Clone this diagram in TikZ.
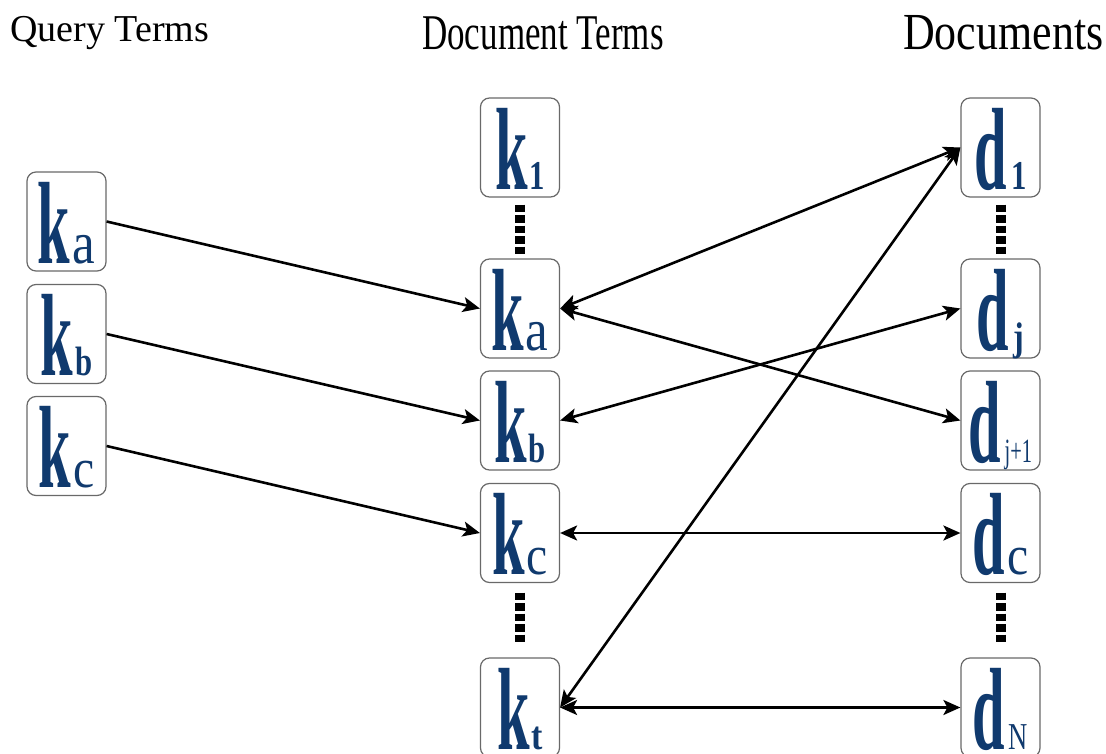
\documentclass[tikz,border=0pt]{standalone}
\usepackage{fontspec}
\setmainfont{Liberation Serif}
\usepackage{graphicx}
\usetikzlibrary{arrows.meta}
\definecolor{kblue}{RGB}{16,58,110}
\definecolor{boxgray}{RGB}{105,105,105}
\newcommand\Sym[4]{\scalebox{0.5}[1]{\fontsize{117}{117}\selectfont\bfseries #1}\hspace{2pt}\scalebox{#4}[1]{\fontsize{#3}{#3}\selectfont #2}}
\begin{document}
\begin{tikzpicture}[x=1pt,y=-1pt,
  box/.style={draw=boxgray,line width=1.2pt,rounded corners=9pt,minimum width=79pt,minimum height=99pt,inner sep=0pt,fill=white},
  sym/.style={anchor=base,inner sep=0pt,text=kblue},
  title/.style={anchor=base west,inner sep=0pt,text=black},
  link/.style={line width=2.6pt,-{Stealth[length=17pt,width=15pt,inset=4pt]}},
  blink/.style={line width=2.6pt,{Stealth[length=17pt,width=15pt,inset=4pt]}-{Stealth[length=17pt,width=15pt,inset=4pt]}},
  dots/.style={line width=10pt,dash pattern=on 7.5pt off 3pt}
]
\useasboundingbox (0,0) rectangle (1106,754);

% titles
\node[title] (t1) at (10,42) {\fontsize{38}{38}\selectfont Query Terms};
\node[title] (t2) at (422,50) {\scalebox{0.7}[1]{\fontsize{50}{50}\selectfont Document Terms}};
\node[title] (t3) at (903,50) {\scalebox{0.845}[1]{\fontsize{52}{52}\selectfont Documents}};

% query terms
\node[box] (qa) at (66.5,221.5) {};
\node[box] (qb) at (66.5,334) {};
\node[box] (qc) at (66.5,446) {};
\node[sym] (qat) at ([yshift=8.5pt]qa.south) {\Sym{k}{a}{60}{0.85}};
\node[sym] (qbt) at ([yshift=8.5pt]qb.south) {\Sym{k}{\textbf{b}}{41}{0.75}};
\node[sym] (qct) at ([yshift=8.5pt]qc.south) {\Sym{k}{c}{56}{0.85}};

% document terms
\node[box] (k1) at (520,147.5) {};
\node[box] (ka) at (520,308.5) {};
\node[box] (kb) at (520,420.5) {};
\node[box] (kc) at (520,533) {};
\node[box] (kt) at (520,707.5) {};
\node[sym] (k1t) at ([yshift=8pt]k1.south) {\Sym{k}{\textbf{1}}{41}{0.75}};
\node[sym] (kat) at ([yshift=8.5pt]ka.south) {\Sym{k}{a}{60}{0.85}};
\node[sym] (kbt) at ([yshift=8.5pt]kb.south) {\Sym{k}{\textbf{b}}{41}{0.75}};
\node[sym] (kct) at ([yshift=8.5pt]kc.south) {\Sym{k}{c}{56}{0.85}};
\node[sym] (ktt) at ([yshift=8.5pt]kt.south) {\Sym{k}{\textbf{t}}{40}{0.85}};

% documents
\node[box] (d1) at (1000.5,147.5) {};
\node[box] (dj) at (1000.5,308.5) {};
\node[box] (dj1) at (1000.5,420.5) {};
\node[box] (dc) at (1000.5,533) {};
\node[box] (dN) at (1000.5,707.5) {};
\node[sym] (d1t) at ([yshift=8pt]d1.south) {\Sym{d}{\hspace{3pt}\textbf{1}}{41}{0.75}};
\node[sym] (djt) at ([yshift=8.5pt]dj.south) {\Sym{d}{\hspace{3pt}\textbf{j}}{40}{0.8}};
\node[sym] (dj1t) at ([yshift=8.5pt]dj1.south) {\Sym{d}{\hspace{2pt}j+1}{34}{0.6}};
\node[sym] (dct) at ([yshift=8.5pt]dc.south) {\Sym{d}{c}{56}{0.85}};
\node[sym] (dNt) at ([yshift=8.5pt]dN.south) {\Sym{d}{\hspace{2pt}N}{38}{0.7}};

% dotted continuation marks
\draw[dots] ([yshift=-7pt]k1.south) -- ([yshift=4pt]ka.north);
\draw[dots] ([yshift=-9.5pt]kc.south) -- ([yshift=15pt]kt.north);
\draw[dots] ([yshift=-7pt]d1.south) -- ([yshift=4pt]dj.north);
\draw[dots] ([yshift=-9.5pt]dc.south) -- ([yshift=15pt]dN.north);

% query to document terms
\draw[link] (qa.east) -- (ka.west);
\draw[link] (qb.east) -- (kb.west);
\draw[link] (qc.east) -- (kc.west);

% document terms to documents
\draw[blink] (ka.east) -- (d1.west);
\draw[blink] (ka.east) -- (dj1.west);
\draw[blink] (kb.east) -- (dj.west);
\draw[blink] (kc.east) -- (dc.west);
\draw[blink] (kt.east) -- (d1.west);
\draw[blink] (kt.east) -- (dN.west);
\end{tikzpicture}
\end{document}
